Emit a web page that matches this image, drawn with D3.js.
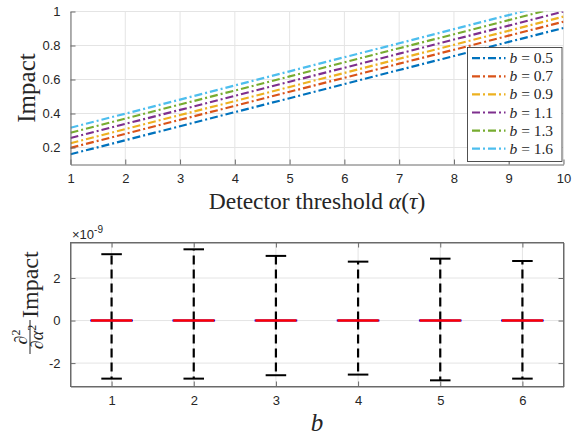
<!DOCTYPE html>
<html>
<head>
<meta charset="utf-8">
<script src="https://cdn.jsdelivr.net/npm/d3@7"></script>
<style>
  body { margin: 0; background: #fff; }
  svg { display: block; }
  .tex { font-family: "Liberation Serif", "Times New Roman", serif; fill: #262626; }
</style>
</head>
<body>
<div id="chart"></div>
<script>
// ---- data ----
var alphas = [1, 2, 3, 4, 5, 6, 7, 8, 9, 10]
var bLabels = ['0.5', '0.7', '0.9', '1.1', '1.3', '1.6']
var impact = [
  [0.160, 0.243, 0.325, 0.408, 0.490, 0.573, 0.656, 0.738, 0.821, 0.903],
  [0.198, 0.280, 0.363, 0.445, 0.528, 0.610, 0.693, 0.775, 0.858, 0.940],
  [0.225, 0.308, 0.391, 0.473, 0.556, 0.639, 0.722, 0.804, 0.887, 0.970],
  [0.256, 0.339, 0.421, 0.504, 0.587, 0.669, 0.752, 0.835, 0.917, 1.000],
  [0.287, 0.370, 0.453, 0.535, 0.618, 0.701, 0.784, 0.866, 0.949, 1.032],
  [0.316, 0.399, 0.482, 0.565, 0.648, 0.731, 0.813, 0.896, 0.979, 1.062]
]
var lineColors = ['#0072BD', '#D95319', '#EDB120', '#7E2F8E', '#77AC30', '#4DBEEE']

// boxplot of second derivative (x 1e-9)
var boxCats = [1, 2, 3, 4, 5, 6]
var upperWhisker = [3.12, 3.35, 3.04, 2.77, 2.91, 2.80]
var lowerWhisker = [-2.73, -2.73, -2.57, -2.54, -2.81, -2.73]
var medians = [0, 0, 0, 0, 0, 0]

var topXTicks = [1, 2, 3, 4, 5, 6, 7, 8, 9, 10]
var topYTicks = [0.2, 0.4, 0.6, 0.8, 1]
var botYTicks = [-2, 0, 2]

var W = 577, H = 436
var axisColor = '#6a6a6a'
var gridColor = '#e4e4e4'
var dashDot = '8,3,2,3'
var tickFont = '"Liberation Sans", Arial, sans-serif'

var svg = d3.select('#chart').append('svg')
  .attr('width', W)
  .attr('height', H)

const styleAxis = g => {
  g.attr('font-family', tickFont).attr('font-size', 13)
  g.select('.domain').attr('stroke', axisColor)
  g.selectAll('.tick line').attr('stroke', axisColor)
  g.selectAll('.tick text').attr('fill', '#262626')
}

// ****************** top panel ******************
var t = { left: 70.5, right: 563.5, top: 11.5, bottom: 164.5 }

var xTop = d3.scaleLinear().domain([1, 10]).range([t.left, t.right])
var yTop = d3.scaleLinear().domain([0.1, 1]).range([t.bottom, t.top])

var gTop = svg.append('g')

// grid
gTop.selectAll('line.vgrid')
  .data(topXTicks)
  .enter().append('line')
  .attr('x1', d => xTop(d)).attr('x2', d => xTop(d))
  .attr('y1', t.top).attr('y2', t.bottom)
  .attr('stroke', gridColor)
gTop.selectAll('line.hgrid')
  .data(topYTicks)
  .enter().append('line')
  .attr('x1', t.left).attr('x2', t.right)
  .attr('y1', d => yTop(d)).attr('y2', d => yTop(d))
  .attr('stroke', gridColor)

svg.append('clipPath').attr('id', 'clipTop')
  .append('rect')
  .attr('x', t.left).attr('y', t.top)
  .attr('width', t.right - t.left).attr('height', t.bottom - t.top)

var line = d3.line()
  .x((d, i) => xTop(alphas[i]))
  .y(d => yTop(d))

gTop.append('g').attr('clip-path', 'url(#clipTop)')
  .selectAll('path')
  .data(impact)
  .enter().append('path')
  .attr('d', line)
  .attr('fill', 'none')
  .attr('stroke', (d, i) => lineColors[i])
  .attr('stroke-width', 2.2)
  .attr('stroke-dasharray', dashDot)

// axes (left + bottom only)
var xAxisTop = d3.axisBottom(xTop).tickValues(topXTicks).tickSizeInner(-5).tickSizeOuter(0).tickPadding(9)
var yAxisTop = d3.axisLeft(yTop).tickValues(topYTicks).tickSizeInner(-5).tickSizeOuter(0).tickPadding(10)
  .tickFormat(d => d === 1 ? '1' : d3.format('.1f')(d))

styleAxis(gTop.append('g').attr('transform', 'translate(0,' + t.bottom + ')').call(xAxisTop))
styleAxis(gTop.append('g').attr('transform', 'translate(' + t.left + ',0)').call(yAxisTop))

// legend
var lg = { x: 467.5, y: 47.5, w: 94.5, h: 114, row: 18.1, first: 10.2 }
var legend = gTop.append('g')
legend.append('rect')
  .attr('x', lg.x).attr('y', lg.y)
  .attr('width', lg.w).attr('height', lg.h)
  .attr('fill', '#fff')
  .attr('stroke', '#262626')
  .attr('stroke-width', 0.8)

var items = legend.selectAll('g.item')
  .data(bLabels)
  .enter().append('g')
  .attr('transform', (d, i) => 'translate(' + lg.x + ',' + (lg.y + lg.first + i * lg.row) + ')')
items.append('line')
  .attr('x1', 4.5).attr('x2', 38)
  .attr('y1', 0.5).attr('y2', 0.5)
  .attr('stroke', (d, i) => lineColors[i])
  .attr('stroke-width', 2.2)
  .attr('stroke-dasharray', dashDot)
var itemText = items.append('text')
  .attr('class', 'tex')
  .attr('x', 42)
  .attr('y', 5.5)
  .attr('font-size', 15.5)
itemText.append('tspan').attr('font-style', 'italic').text('b')
itemText.append('tspan').text(d => ' = ' + d)

// labels
gTop.append('text')
  .attr('class', 'tex')
  .attr('x', (t.left + t.right) / 2)
  .attr('y', 209)
  .attr('text-anchor', 'middle')
  .attr('font-size', 23.5)
  .html('Detector threshold <tspan font-style="italic">α</tspan>(<tspan font-style="italic">τ</tspan>)')

gTop.append('text')
  .attr('class', 'tex')
  .attr('transform', 'translate(35,' + ((t.top + t.bottom) / 2) + ') rotate(-90)')
  .attr('text-anchor', 'middle')
  .attr('font-size', 25)
  .text('Impact')

// ****************** bottom panel ******************
var b = { left: 70.5, right: 563.5, top: 242.5, bottom: 386.5 }

var xBot = d3.scaleLinear().domain([0.5, 6.5]).range([b.left, b.right])
var yBot = d3.scaleLinear().domain([-3.1, 3.67]).range([b.bottom, b.top])

var gBot = svg.append('g')

gBot.selectAll('line.vgrid')
  .data(boxCats)
  .enter().append('line')
  .attr('x1', d => xBot(d)).attr('x2', d => xBot(d))
  .attr('y1', b.top).attr('y2', b.bottom)
  .attr('stroke', gridColor)
gBot.selectAll('line.hgrid')
  .data(botYTicks)
  .enter().append('line')
  .attr('x1', b.left).attr('x2', b.right)
  .attr('y1', d => yBot(d)).attr('y2', d => yBot(d))
  .attr('stroke', gridColor)

// whiskers (dashed, from box outwards)
var boxes = gBot.selectAll('g.box')
  .data(boxCats)
  .enter().append('g')

boxes.append('line')
  .attr('x1', d => xBot(d)).attr('x2', d => xBot(d))
  .attr('y1', (d, i) => yBot(medians[i])).attr('y2', (d, i) => yBot(upperWhisker[i]))
  .attr('stroke', '#000').attr('stroke-width', 2.2).attr('stroke-dasharray', '9,5')
boxes.append('line')
  .attr('x1', d => xBot(d)).attr('x2', d => xBot(d))
  .attr('y1', (d, i) => yBot(medians[i])).attr('y2', (d, i) => yBot(lowerWhisker[i]))
  .attr('stroke', '#000').attr('stroke-width', 2.2).attr('stroke-dasharray', '9,5')

// caps
boxes.append('line')
  .attr('x1', d => xBot(d - 0.125)).attr('x2', d => xBot(d + 0.125))
  .attr('y1', (d, i) => yBot(upperWhisker[i])).attr('y2', (d, i) => yBot(upperWhisker[i]))
  .attr('stroke', '#000').attr('stroke-width', 2)
boxes.append('line')
  .attr('x1', d => xBot(d - 0.125)).attr('x2', d => xBot(d + 0.125))
  .attr('y1', (d, i) => yBot(lowerWhisker[i])).attr('y2', (d, i) => yBot(lowerWhisker[i]))
  .attr('stroke', '#000').attr('stroke-width', 2)

// collapsed box (blue) and median (red)
boxes.append('line')
  .attr('x1', d => xBot(d - 0.25) - 0.8).attr('x2', d => xBot(d + 0.25) + 0.8)
  .attr('y1', (d, i) => yBot(medians[i])).attr('y2', (d, i) => yBot(medians[i]))
  .attr('stroke', '#0000ff').attr('stroke-width', 2)
boxes.append('line')
  .attr('x1', d => xBot(d - 0.25)).attr('x2', d => xBot(d + 0.25))
  .attr('y1', (d, i) => yBot(medians[i])).attr('y2', (d, i) => yBot(medians[i]))
  .attr('stroke', '#ff0000').attr('stroke-width', 2.6)

// box frame with inward ticks on all sides
gBot.append('rect')
  .attr('x', b.left).attr('y', b.top)
  .attr('width', b.right - b.left).attr('height', b.bottom - b.top)
  .attr('fill', 'none').attr('stroke', axisColor)

var xAxisBot = d3.axisBottom(xBot).tickValues(boxCats).tickSizeInner(-5).tickSizeOuter(0).tickPadding(9)
  .tickFormat(d3.format('d'))
var xAxisBotTop = d3.axisTop(xBot).tickValues(boxCats).tickSizeInner(-5).tickSizeOuter(0).tickFormat('')
var yAxisBot = d3.axisLeft(yBot).tickValues(botYTicks).tickSizeInner(-5).tickSizeOuter(0).tickPadding(10)
  .tickFormat(d => d < 0 ? '-' + Math.abs(d) : String(d))
var yAxisBotRight = d3.axisRight(yBot).tickValues(botYTicks).tickSizeInner(-5).tickSizeOuter(0).tickFormat('')

styleAxis(gBot.append('g').attr('transform', 'translate(0,' + b.bottom + ')').call(xAxisBot))
styleAxis(gBot.append('g').attr('transform', 'translate(0,' + b.top + ')').call(xAxisBotTop))
styleAxis(gBot.append('g').attr('transform', 'translate(' + b.left + ',0)').call(yAxisBot))
styleAxis(gBot.append('g').attr('transform', 'translate(' + b.right + ',0)').call(yAxisBotRight))

// exponent label
var expo = gBot.append('text')
  .attr('font-family', tickFont)
  .attr('font-size', 13)
  .attr('fill', '#262626')
  .attr('x', 72)
  .attr('y', 239)
expo.append('tspan').text('×10')
expo.append('tspan').attr('dy', -6).attr('font-size', 10).text('-9')

// x label
gBot.append('text')
  .attr('class', 'tex')
  .attr('x', (b.left + b.right) / 2)
  .attr('y', 431)
  .attr('font-size', 25)
  .attr('font-style', 'italic')
  .attr('text-anchor', 'middle')
  .text('b')

// y label: fraction d2/da2 followed by Impact, rotated
var yl = gBot.append('g')
  .attr('transform', 'translate(30,306) rotate(-90)')
var frac = yl.append('g').attr('transform', 'translate(-31,0)')
frac.append('line')
  .attr('x1', -17).attr('x2', 17)
  .attr('y1', 0).attr('y2', 0)
  .attr('stroke', '#262626').attr('stroke-width', 1)
var num = frac.append('text').attr('class', 'tex').attr('text-anchor', 'middle')
  .attr('y', -3).attr('font-size', 18)
num.append('tspan').attr('font-style', 'italic').text('∂')
num.append('tspan').attr('dy', -7).attr('font-size', 12).text('2')
var den = frac.append('text').attr('class', 'tex').attr('text-anchor', 'middle')
  .attr('y', 13).attr('font-size', 18)
den.append('tspan').attr('font-style', 'italic').text('∂α')
den.append('tspan').attr('dy', -7).attr('font-size', 12).text('2')
yl.append('text')
  .attr('class', 'tex')
  .attr('x', -12)
  .attr('y', 8)
  .attr('font-size', 24)
  .text('Impact')
</script>
</body>
</html>
